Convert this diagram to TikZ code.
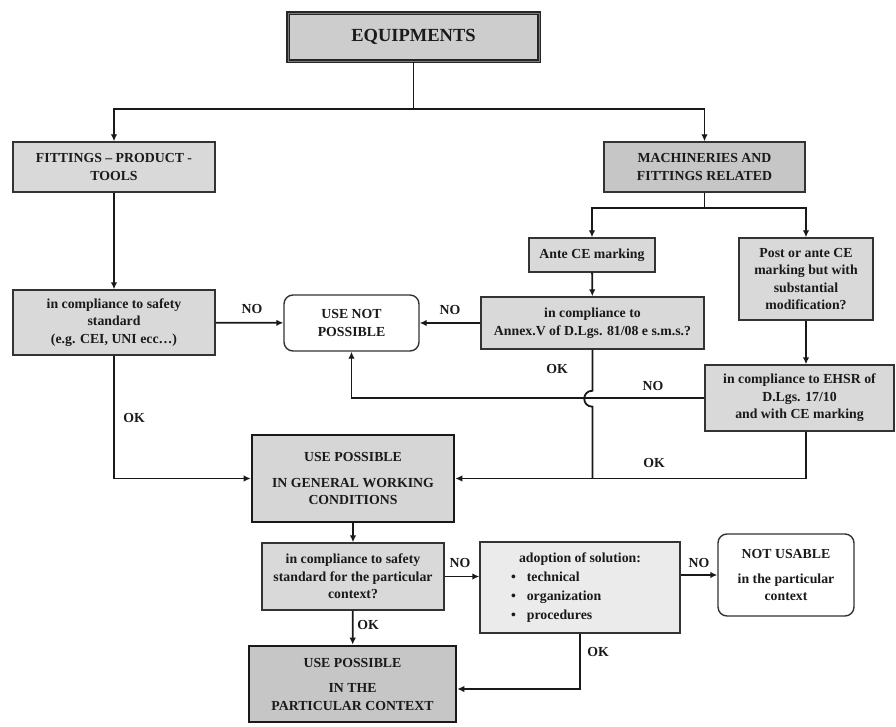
\documentclass[tikz,border=0pt]{standalone}
\usepackage{fontspec}
\setmainfont{Liberation Serif}
\usetikzlibrary{arrows.meta}

\definecolor{ink}{HTML}{1A1A1A}
\definecolor{edge}{HTML}{333333}
\definecolor{boxgray}{HTML}{D9D9D9}
\definecolor{headgray}{HTML}{CDCDCD}
\definecolor{darkgray}{HTML}{C6C6C6}
\definecolor{midgray}{HTML}{D6D6D6}
\definecolor{palegray}{HTML}{EBEBEB}

\begin{document}
\begin{tikzpicture}[
  x=1pt, y=-1pt,
  txt/.style={font=\fontsize{13.8}{17.5}\selectfont\bfseries, text=ink},
  box/.style={txt, draw=edge, line width=1.4pt, fill=boxgray, align=center,
              inner sep=0pt, minimum width=#1},
  box/.default=100pt,
  stopbox/.style={box=#1, fill=white, rounded corners=9pt},
  keybox/.style={box=#1, draw=black!90, line width=2.6pt},
  lbl/.style={txt, inner sep=1pt},
  conn/.style={draw=black!90, line width=1.8pt},
  arr/.style={conn, -{Latex[length=7pt,width=6.5pt]}}
]
\useasboundingbox (0,0) rectangle (896,727);

% ---- boxes ----
\node[box=251pt, minimum height=48pt, fill=headgray, draw=black!85,
      line width=1.3pt, double=headgray!60!black, double distance=0.9pt,
      font=\fontsize{18.5}{22}\selectfont\bfseries]
      (equip) at (413.5,37) {EQUIPMENTS};

\node[box=202pt, minimum height=50pt] (fit) at (114,167)
      {FITTINGS – PRODUCT -\\TOOLS};
\node[box=201pt, minimum height=50pt, fill=darkgray] (mach) at (704.5,167)
      {MACHINERIES AND\\FITTINGS RELATED};

\node[box=202pt, minimum height=65pt] (safe) at (114,322.5)
      {in compliance to safety\\standard\\(e.g. CEI, UNI ecc…)};
\node[stopbox=135pt, minimum height=56pt] (unp) at (351.5,323)
      {USE NOT\\POSSIBLE};

\node[box=126pt, minimum height=34pt] (ante) at (592,255) {Ante CE marking};
\node[box=134pt, minimum height=82pt] (post) at (806,279)
      {Post or ante CE\\marking but with\\substantial\\modification?};

\node[box=223pt, minimum height=52pt] (annex) at (592.5,323)
      {in compliance to\\Annex.V of D.Lgs. 81/08 e s.m.s.?};
\node[box=189pt, minimum height=66pt] (ehsr) at (799.5,398)
      {in compliance to EHSR of\\D.Lgs. 17/10\\and with CE marking};

\node[keybox=202pt, minimum height=87pt, fill=midgray] (gen) at (353,478.5)
      {USE POSSIBLE\\[8pt]IN GENERAL WORKING\\CONDITIONS};

\node[box=182pt, minimum height=67pt] (safe2) at (353,576.5)
      {in compliance to safety\\standard for the particular\\context?};
\node[box=200pt, minimum height=91pt, fill=palegray] (adopt) at (580,587.5)
      {adoption of solution:\\[1.5pt]
       \makebox[196pt][l]{\hspace{29pt}\textbullet\hspace{11pt}technical}\\[1.5pt]
       \makebox[196pt][l]{\hspace{29pt}\textbullet\hspace{11pt}organization}\\[1.5pt]
       \makebox[196pt][l]{\hspace{29pt}\textbullet\hspace{11pt}procedures}};
\node[stopbox=136pt, minimum height=82pt] (notus) at (786,575)
      {NOT USABLE\\[7pt]in the particular\\context};

\node[keybox=207pt, minimum height=76pt, fill=darkgray] (part) at (352.5,684)
      {USE POSSIBLE\\[8pt]IN THE\\PARTICULAR CONTEXT};

% ---- branch points ----
\coordinate (split)  at (413.5,109);
\coordinate (msplit) at (704.5,208);

% ---- connectors ----
\draw[conn] (equip) -- (split);
\draw[arr]  (split) -| (fit);
\draw[arr]  (split) -| (mach);

\draw[conn] (mach) -- (msplit);
\draw[arr]  (msplit) -| (ante);
\draw[arr]  (msplit) -| (post);

\draw[arr] (fit) -- (safe);
\draw[arr] (ante) -- (annex);
\draw[arr] (post.south) -- (post.south |- ehsr.north);

\draw[arr] (safe) -- (unp);
\draw[arr] (annex) -- (unp);
\draw[arr] (ehsr.west) -| (unp.south);

\draw[arr] (safe.south) |- (gen.west);
% OK branch of the Annex V check, hopping over the NO line
\draw[conn] (annex.south) -- ++(0,41)
      .. controls +(-11,0) and +(-11,0) .. ++(0,16)
      -- (annex.south |- gen.east);
\draw[arr] (post.south |- ehsr.south) -- (post.south |- gen.east) -- (gen.east);

\draw[arr] (gen) -- (safe2);
\draw[arr] (safe2.east) -- (safe2.east -| adopt.west);
\draw[arr] (notus.west -| adopt.east) -- (notus.west);
\draw[arr] (safe2) -- (part);
\draw[arr] (adopt.south) |- ([yshift=-5pt]part.east);

% ---- branch labels ----
\node[lbl] (no1) at (252,309) {NO};
\node[lbl] (no2) at (450,310) {NO};
\node[lbl] (ok1) at (557,369) {OK};
\node[lbl] (no3) at (653,386) {NO};
\node[lbl] (ok2) at (134,418) {OK};
\node[lbl] (ok3) at (654,463) {OK};
\node[lbl] (no4) at (460,563) {NO};
\node[lbl] (no5) at (699,563) {NO};
\node[lbl] (ok4) at (368,625) {OK};
\node[lbl] (ok5) at (598,652) {OK};
\end{tikzpicture}
\end{document}
